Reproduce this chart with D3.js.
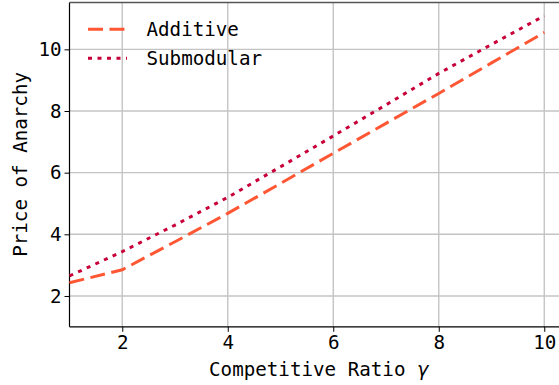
<!DOCTYPE html>
<html>
<head>
<meta charset="utf-8">
<script src="https://cdn.jsdelivr.net/npm/d3@7/dist/d3.min.js"></script>
<style>
  html, body { margin: 0; padding: 0; background: #fff; }
  text { font-family: "DejaVu Sans Mono", monospace; fill: #000; }
</style>
</head>
<body>
<div id="chart"></div>
<script>
const gammas = [1, 2, 3, 4, 5, 6, 7, 8, 9, 10];
const additive = [2.43, 2.85, 3.76, 4.68, 5.65, 6.63, 7.6, 8.57, 9.56, 10.55];
const submodular = [2.65, 3.44, 4.3, 5.2, 6.19, 7.19, 8.2, 9.22, 10.16, 11.09];
const xTicks = [2, 4, 6, 8, 10];
const yTicks = [2, 4, 6, 8, 10];

const width = 559, height = 385;
const fs = 19.2;

const svg = d3.select("#chart").append("svg")
    .attr("width", width)
    .attr("height", height);

svg.append("rect").attr("width", width).attr("height", height).attr("fill", "#fff");

const x = d3.scaleLinear().domain([1, 10.45]).range([69.5, 568]);
const y = d3.scaleLinear().domain([1, 11.52]).range([326.8, 2.5]);

// grid
svg.append("g").selectAll("line")
    .data(xTicks).enter().append("line")
    .attr("x1", d => x(d)).attr("x2", d => x(d))
    .attr("y1", y.range()[0]).attr("y2", y.range()[1])
    .attr("stroke", "#c4c4c4").attr("stroke-width", 1.4);
svg.append("g").selectAll("line")
    .data(yTicks).enter().append("line")
    .attr("x1", x.range()[0]).attr("x2", x.range()[1])
    .attr("y1", d => y(d)).attr("y2", d => y(d))
    .attr("stroke", "#c4c4c4").attr("stroke-width", 1.4);

// axes
const xAxis = d3.axisBottom(x).tickValues(xTicks).tickSize(5).tickPadding(4).tickSizeOuter(0);
const yAxis = d3.axisLeft(y).tickValues(yTicks).tickSize(5).tickPadding(3).tickSizeOuter(0);

const gx = svg.append("g").attr("transform", `translate(0,${y.range()[0]})`).call(xAxis);
const gy = svg.append("g").attr("transform", `translate(${x.range()[0]},0)`).call(yAxis);
[gx, gy].forEach(g => {
  g.select(".domain").remove();
  g.selectAll("text").style("font-size", fs + "px").style("font-family", "DejaVu Sans Mono");
  g.selectAll("line").attr("stroke", "#000").attr("stroke-width", 1);
});

// spines
svg.append("line").attr("x1", x.range()[0]).attr("x2", x.range()[0])
    .attr("y1", y.range()[0]).attr("y2", y.range()[1]).attr("stroke", "#000").attr("stroke-width", 1.2);
svg.append("line").attr("x1", x.range()[0]).attr("x2", x.range()[1])
    .attr("y1", y.range()[0]).attr("y2", y.range()[0]).attr("stroke", "#000").attr("stroke-width", 1.2);
svg.append("line").attr("x1", x.range()[0]).attr("x2", x.range()[1])
    .attr("y1", y.range()[1]).attr("y2", y.range()[1]).attr("stroke", "#555").attr("stroke-width", 1.4);

// series
const series = [
  {name: "Additive", values: additive, color: "#FF5733", dash: "15,6.5"},
  {name: "Submodular", values: submodular, color: "#C70039", dash: "4,5.5"}
];

const line = d3.line().x((d, i) => x(gammas[i])).y(d => y(d));

series.forEach(s => {
  svg.append("path")
      .datum(s.values)
      .attr("d", line)
      .attr("fill", "none")
      .attr("stroke", s.color)
      .attr("stroke-width", 3)
      .attr("stroke-dasharray", s.dash);
});

// legend
const legend = svg.append("g");
series.forEach((s, i) => {
  const ly = 29.3 + i * 29;
  legend.append("line")
      .attr("x1", 88).attr("x2", 127).attr("y1", ly).attr("y2", ly)
      .attr("stroke", s.color).attr("stroke-width", 3)
      .attr("stroke-dasharray", s.dash);
  legend.append("text")
      .attr("x", 146.5).attr("y", ly + 6.8)
      .style("font-size", fs + "px")
      .text(s.name);
});

// axis labels
const xl = svg.append("text")
    .attr("x", 318.7).attr("y", 375.5)
    .attr("text-anchor", "middle")
    .style("font-size", fs + "px");
xl.append("tspan").text("Competitive Ratio ");
xl.append("tspan").style("font-family", "DejaVu Sans").style("font-style", "italic").text("γ");

svg.append("text")
    .attr("transform", "translate(27,164.4) rotate(-90)")
    .attr("text-anchor", "middle")
    .style("font-size", fs + "px")
    .text("Price of Anarchy");
</script>
</body>
</html>
